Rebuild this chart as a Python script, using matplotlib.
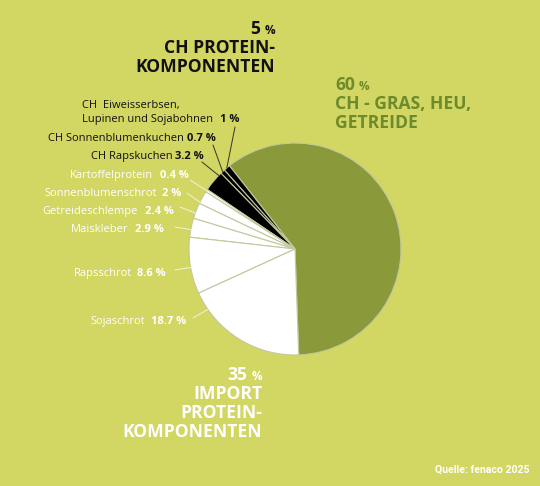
import numpy as np
import matplotlib
matplotlib.use("Agg")
import matplotlib.pyplot as plt

# ---------------- data ----------------
categories = [
    "CH - Gras, Heu, Getreide",
    "CH  Eiweisserbsen,\nLupinen und Sojabohnen",
    "CH Sonnenblumenkuchen",
    "CH Rapskuchen",
    "Kartoffelprotein",
    "Sonnenblumenschrot",
    "Getreideschlempe",
    "Maiskleber",
    "Rapsschrot",
    "Sojaschrot",
]
shares = [60, 1, 0.7, 3.2, 0.4, 2, 2.4, 2.9, 8.6, 18.7]
share_labels = ["60 %", "1 %", "0.7 %", "3.2 %", "0.4 %", "2 %", "2.4 %", "2.9 %", "8.6 %", "18.7 %"]
groups = ["gras", "ch", "ch", "ch", "import", "import", "import", "import", "import", "import"]

group_numbers = {"ch": "5", "gras": "60", "import": "35"}
group_titles = {
    "ch": ["CH PROTEIN-", "KOMPONENTEN"],
    "gras": ["CH - GRAS, HEU,", "GETREIDE"],
    "import": ["IMPORT", "PROTEIN-", "KOMPONENTEN"],
}
source = "Quelle: fenaco 2025"

# ---------------- style / layout ----------------
BG = "#d2d662"
GREEN = "#8a9a3b"
TITLE_GREEN = "#6d8a2c"
wedge_colors = {"gras": GREEN, "ch": "#000000", "import": "#ffffff"}
text_colors = {"ch": "#111111", "import": "#ffffff"}
line_colors = {"ch": "#333333", "import": "#f2f2e4"}

W, H = 540, 486
CX, CY, R = 295, 249, 106  # pie centre and radius in pixels


def D(x, y):
    """top-left pixel position -> data coords"""
    return (x - CX) / R, (CY - y) / R


# right end and baseline of each slice label (pixels), gap between name and %
label_pos = [None, (239, 122), (216, 141), (204, 159), (189, 177.5), (181.5, 195.5),
             (173.5, 213.5), (164, 231.5), (166, 276), (186.5, 324)]
name_gap = [0, 7, 3, 3, 7, 5, 7, 7, 5, 6]
leader_start = [None, (235, 127), (213, 145), (202, 162), (190, 180), (187, 193),
                (180, 207), (175, 227), (175, 270), (193, 318)]
anchor_frac = [0.5, 0.5, 0.5, 0.15, 0.5, 0.9, 0.65, 0.6, 0.53, 0.15]

LABEL_FONT = "Open Sans"
LABEL_SIZE = 8.0
TITLE_FONT = "Open Sans"
TITLE_SIZE = 12.6

fig = plt.figure(figsize=(W / 100, H / 100), dpi=100, facecolor=BG)
ax = fig.add_axes([0, 0, 1, 1])
ax.set_facecolor(BG)

wedges, _ = ax.pie(
    shares,
    colors=[wedge_colors[g] for g in groups],
    startangle=-88,
    counterclock=True,
    radius=1,
    center=(0, 0),
    wedgeprops=dict(edgecolor="#c4c89c", linewidth=0.8),
)
ax.set_xlim(-CX / R, (W - CX) / R)
ax.set_ylim(-(H - CY) / R, CY / R)
ax.set_aspect("equal")
ax.axis("off")

renderer = fig.canvas.get_renderer()


def place_before(anchor, s, gap, **kw):
    bb = anchor.get_window_extent(renderer)
    x, _ = ax.transData.inverted().transform((bb.x0 - gap, 0))
    return ax.text(x, anchor.get_position()[1], s, ha="right", **kw)


def place_after(anchor, s, gap, **kw):
    bb = anchor.get_window_extent(renderer)
    x, _ = ax.transData.inverted().transform((bb.x1 + gap, 0))
    return ax.text(x, anchor.get_position()[1], s, ha="left", **kw)


# slice labels with leader lines
for i in range(1, len(categories)):
    g = groups[i]
    col = text_colors[g]
    x, y = D(*label_pos[i])
    pct = ax.text(x, y, share_labels[i], ha="right", va="baseline", color=col,
                  fontsize=LABEL_SIZE, fontweight="bold", family=LABEL_FONT)
    place_before(pct, categories[i], name_gap[i], va="baseline", color=col,
                 fontsize=LABEL_SIZE, family=LABEL_FONT, multialignment="left",
                 linespacing=1.35)

    w = wedges[i]
    ang = np.deg2rad(w.theta1 + anchor_frac[i] * (w.theta2 - w.theta1))
    ax.annotate("", xy=(np.cos(ang), np.sin(ang)), xytext=D(*leader_start[i]),
                arrowprops=dict(arrowstyle="-", color=line_colors[g], lw=0.7,
                                shrinkA=0, shrinkB=0))

# CH protein components (black, right aligned)
x, y = D(275, 34)
p = ax.text(x, y, "%", ha="right", va="baseline", fontsize=8.5, fontweight="bold",
            color="#111111", family=TITLE_FONT)
place_before(p, group_numbers["ch"], 4, va="baseline", fontsize=TITLE_SIZE, fontweight="bold",
             color="#111111", family=TITLE_FONT)
for k, line in enumerate(group_titles["ch"]):
    ax.text(*D(275, 53 + 19 * k), line, ha="right", va="baseline", fontsize=TITLE_SIZE,
            fontweight="bold", color="#111111", family=TITLE_FONT)

# CH grass (green, left aligned)
n = ax.text(*D(335, 90), group_numbers["gras"], ha="left", va="baseline", fontsize=TITLE_SIZE,
            fontweight="bold", color=TITLE_GREEN, family=TITLE_FONT)
place_after(n, "%", 4, va="baseline", fontsize=8.5, fontweight="bold", color=TITLE_GREEN,
            family=TITLE_FONT)
for k, line in enumerate(group_titles["gras"]):
    ax.text(*D(335, 109 + 19 * k), line, ha="left", va="baseline", fontsize=TITLE_SIZE,
            fontweight="bold", color=TITLE_GREEN, family=TITLE_FONT)

# Import protein components (white, right aligned)
x, y = D(262, 380)
p = ax.text(x, y, "%", ha="right", va="baseline", fontsize=8.5, fontweight="bold",
            color="white", family=TITLE_FONT)
place_before(p, group_numbers["import"], 4, va="baseline", fontsize=TITLE_SIZE, fontweight="bold",
             color="white", family=TITLE_FONT)
for k, line in enumerate(group_titles["import"]):
    ax.text(*D(262, 399 + 19 * k), line, ha="right", va="baseline", fontsize=TITLE_SIZE,
            fontweight="bold", color="white", family=TITLE_FONT)

ax.text(*D(529, 473), source, ha="right", va="baseline", fontsize=7.6, fontweight="bold",
        color="white", family="Roboto")

fig.savefig("out.png", dpi=100, facecolor=BG)
